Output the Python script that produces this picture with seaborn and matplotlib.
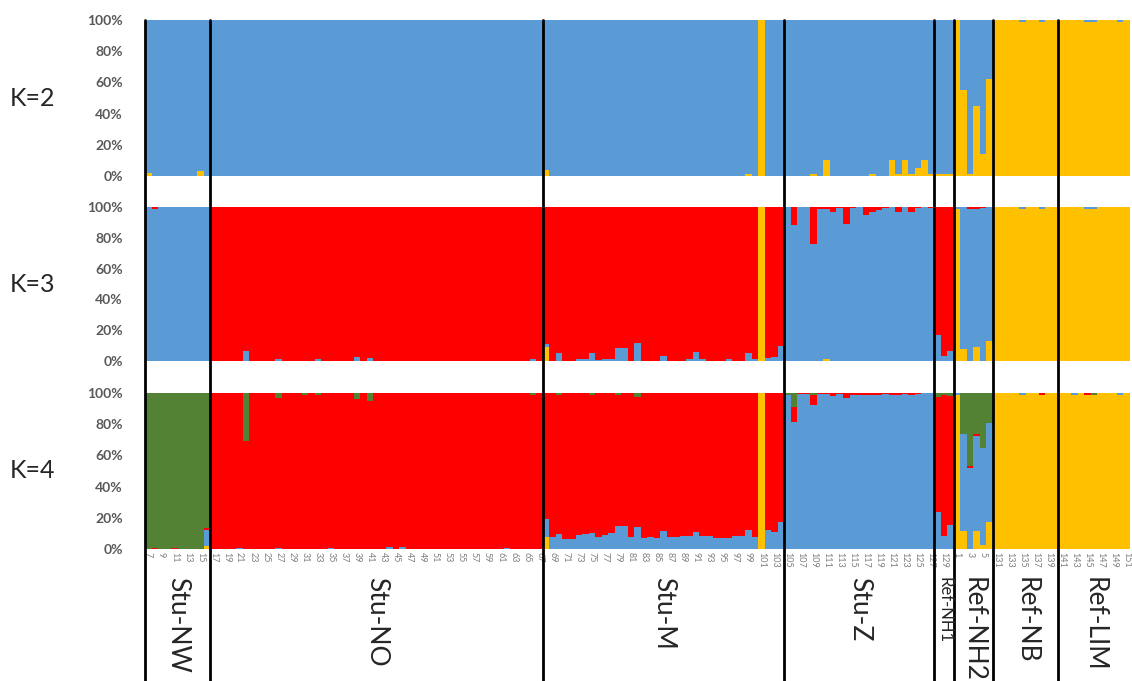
import numpy as np
import pandas as pd
import matplotlib.pyplot as plt
import matplotlib.transforms as mtransforms
import seaborn as sns

# populations, left to right, and how many individuals each one has
groups = ['Stu-NW', 'Stu-NO', 'Stu-M', 'Stu-Z', 'Ref-NH1', 'Ref-NH2', 'Ref-NB', 'Ref-LIM']
group_sizes = [10, 51, 37, 23, 3, 6, 10, 11]
sample_labels = list(range(7, 131)) + list(range(1, 7)) + list(range(131, 152))

# membership coefficients in percent, one value per individual
# K=2: yellow given, blue is the rest
k2_yellow = [
    # Stu-NW
    2, 0, 0, 0, 0, 0, 0, 0, 3, 0,
    # Stu-NO
    0, 0, 0, 0, 0, 0, 0, 0, 0, 0, 0, 0, 0, 0, 0, 0, 0,
    0, 0, 0, 0, 0, 0, 0, 0, 0, 0, 0, 0, 0, 0, 0, 0, 0,
    0, 0, 0, 0, 0, 0, 0, 0, 0, 0, 0, 0, 0, 0, 0, 0, 0,
    # Stu-M
    4, 0, 0, 0, 0, 0, 0, 0, 0, 0, 0, 0, 0, 0, 0, 0, 0, 0, 0,
    0, 0, 0, 0, 0, 0, 0, 0, 0, 0, 0, 0, 1, 0, 100, 0, 0, 0,
    # Stu-Z
    0, 0, 0, 0, 1, 0, 10, 0, 0, 0, 0, 0, 0, 1, 0, 0, 10, 1, 10, 1, 5, 10, 1,
    # Ref-NH1
    1, 1, 1,
    # Ref-NH2
    100, 55, 1, 45, 14, 62,
    # Ref-NB
    100, 100, 100, 100, 99, 100, 100, 99, 100, 100,
    # Ref-LIM
    100, 100, 100, 100, 99, 99, 100, 100, 100, 99, 100,
]

# K=3: yellow and blue given, red is the rest
k3_yellow = [
    0, 0, 0, 0, 0, 0, 0, 0, 0, 0,
    0, 0, 0, 0, 0, 0, 0, 0, 0, 0, 0, 0, 0, 0, 0, 0, 0,
    0, 0, 0, 0, 0, 0, 0, 0, 0, 0, 0, 0, 0, 0, 0, 0, 0,
    0, 0, 0, 0, 0, 0, 0, 0, 0, 0, 0, 0, 0, 0, 0, 0, 0,
    9, 0, 0, 0, 0, 0, 0, 0, 0, 0, 0, 0, 0, 0, 0, 0, 0, 0, 0,
    0, 0, 0, 0, 0, 0, 0, 0, 0, 0, 0, 0, 0, 0, 100, 0, 0, 0,
    0, 0, 0, 0, 0, 0, 1, 0, 0, 0, 0, 0, 0, 0, 0, 0, 0, 0, 0, 0, 0, 0, 0,
    0, 0, 0,
    99, 8, 0, 9, 0, 13,
    100, 100, 100, 100, 99, 100, 100, 99, 100, 100,
    100, 100, 100, 100, 99, 99, 100, 100, 100, 100, 100,
]
k3_blue = [
    100, 99, 100, 100, 100, 100, 100, 100, 100, 100,
    0, 0, 0, 0, 0, 6.5, 0, 0, 0, 0, 1, 0, 0, 0, 0, 0, 1,
    0, 0, 0, 0, 0, 2.5, 0, 2, 0, 0, 0, 0, 0, 0, 0, 0, 0,
    0, 0, 0, 0, 0, 0, 0, 0, 0, 0, 0, 0, 0, 0, 0, 1, 0,
    2, 0, 5, 0, 0, 1, 1, 5, 0.5, 1.5, 1.5, 8.6, 8.6, 0, 11.4, 0, 0, 0, 3,
    0, 0, 0, 1.5, 6, 1, 0, 0, 0, 1, 0, 0, 5, 1, 0, 2, 2.5, 10,
    100, 88, 100, 100, 76, 99, 98, 97, 99.5, 89, 99.5, 100,
    95, 97, 98, 99.5, 100, 97, 100, 97, 99.5, 100, 99.5,
    17, 3, 6.5,
    1, 92, 98.5, 89.5, 99.5, 87,
    0, 0, 0, 0, 1, 0, 0, 1, 0, 0,
    0, 0, 0, 0, 1, 1, 0, 0, 0, 0, 0,
]

# K=4: yellow, blue and green given, red is the rest
k4_yellow = [
    0, 0, 0, 0, 0, 0, 0, 0, 0, 1.7,
    0, 0, 0, 0, 0, 0, 0, 0, 0, 0, 0, 0, 0, 0, 0, 0, 0,
    0, 0, 0, 0, 0, 0, 0, 0, 0, 0, 0, 0, 0, 0, 0, 0, 0,
    0, 0, 0, 0, 0, 0, 0, 0, 0, 0, 0, 0, 0, 0, 0, 0, 0,
    7.5, 0, 0, 0, 0, 0, 0, 0, 0, 0, 0, 0, 0, 0, 0, 0, 0, 0, 0,
    0, 0, 0, 0, 0, 0, 0, 0, 0, 0, 0, 0, 0, 0, 100, 0, 0, 0,
    0, 0, 0, 0, 0, 0, 0, 0, 0, 0, 0, 0, 0, 0, 0, 0, 0, 0, 0, 0, 0, 0, 0,
    0, 0, 0,
    99, 11.4, 0, 11.4, 2.6, 17,
    100, 100, 100, 100, 99, 100, 100, 99, 100, 100,
    100, 100, 99, 100, 99, 99, 100, 100, 100, 99, 100,
]
k4_blue = [
    0, 0, 0, 0, 0, 0, 0, 0, 0, 10.7,
    0, 0, 0, 0, 0.5, 0, 0, 0, 0, 0, 0.5, 0, 0, 0, 0, 0, 0,
    0, 0.5, 0, 0, 0, 0, 0, 0, 0, 0, 1, 0, 1, 0, 0, 0, 0,
    0, 0, 0, 0, 0, 0, 0, 0, 0, 0, 0, 0.5, 0, 0, 0, 0, 0,
    12, 7.5, 9.7, 6.5, 6.5, 9, 9.7, 10, 7.5, 9, 10.3, 15, 15, 8, 14, 7.3, 7.7, 7.3, 11.4,
    8, 8, 8.6, 8.6, 10.7, 8.6, 8.4, 7.3, 7.3, 7.3, 8.6, 8.6, 12.5, 7.7, 0, 12.5, 11, 17.4,
    98.5, 81.5, 99.5, 99.5, 92, 99.5, 99.5, 98, 99.5, 97, 99, 99,
    99, 99, 99, 99.5, 99, 99, 99.5, 99, 99.5, 100, 100,
    24, 8.6, 15.7,
    1, 62, 52, 61, 62, 64,
    0, 0, 0, 0, 1, 0, 0, 0, 0, 0,
    0, 0, 1, 0, 0, 0, 0, 0, 0, 1, 0,
]
k4_green = [
    100, 99.5, 100, 100, 99.5, 100, 100, 100, 100, 86.6,
    0, 0, 0, 0, 0, 31, 0, 0, 0, 0, 3, 0, 0, 0, 1, 0, 1.3,
    0, 0, 0, 0, 0, 4, 0, 5, 0, 0, 0, 0, 0, 0, 0, 0, 0,
    0, 0, 0, 0, 0, 0, 0, 0, 0, 0, 0, 0, 0, 0, 0, 1.3, 0,
    0, 0, 1, 0, 0, 0, 0, 1, 0, 0, 0, 1, 0, 0, 2.5, 0, 0, 0, 0,
    0, 0, 0, 0, 0, 0, 0, 0, 0, 0, 0, 0, 0, 0, 0, 0, 0, 0,
    1, 9, 0, 0, 1.5, 0, 0, 0, 0, 0, 0, 0,
    0, 0, 0, 0, 0, 0, 0, 0, 0, 0, 0,
    2.5, 1.5, 2,
    0, 26.6, 46.5, 26.6, 35.4, 19,
    0, 0, 0, 0, 0, 0, 0, 0, 0, 0,
    0, 0, 0, 0, 0, 1, 0, 0, 0, 0, 0,
]

cluster_colors = {'yellow': '#FFC000', 'blue': '#5B9BD5', 'red': '#FF0000', 'green': '#548235'}
# first hue level ends up on top of the stack
stack_order = ['green', 'red', 'blue', 'yellow']


def rest(*parts):
    total = np.sum([np.asarray(p, float) for p in parts], axis=0)
    return np.clip(100 - total, 0, None)


panels = {
    'K=2': {'yellow': k2_yellow, 'blue': rest(k2_yellow)},
    'K=3': {'yellow': k3_yellow, 'blue': k3_blue, 'red': rest(k3_yellow, k3_blue)},
    'K=4': {'yellow': k4_yellow, 'blue': k4_blue, 'green': k4_green,
            'red': rest(k4_yellow, k4_blue, k4_green)},
}

sns.set_style('white')
plt.rcParams['font.family'] = ['Lato', 'DejaVu Sans']

W, H = 1132, 681
fig = plt.figure(figsize=(W / 100, H / 100), dpi=100)
left, right = 145 / W, 1130 / W
panel_px = [(20, 176), (207, 361), (393, 549)]
n = len(sample_labels)

for (name, parts), (top, bot) in zip(panels.items(), panel_px):
    ax = fig.add_axes([left, 1 - bot / H, right - left, (bot - top) / H])
    df = pd.concat([pd.DataFrame({'pos': np.arange(n), 'cluster': c,
                                  'share': np.asarray(v, float) / 100})
                    for c, v in parts.items()], ignore_index=True)
    order = [c for c in stack_order if c in parts]
    sns.histplot(data=df, x='pos', weights='share', hue='cluster', hue_order=order,
                 palette=cluster_colors, multiple='stack', discrete=True, shrink=1,
                 alpha=1, linewidth=0, legend=False, ax=ax)
    ax.set_xlim(-0.5, n - 0.5)
    ax.set_ylim(0, 1)
    ax.set_xlabel('')
    ax.set_ylabel('')
    yt = np.linspace(0, 1, 6)
    ax.set_yticks(yt)
    ax.set_yticklabels([f'{int(round(t * 100))}%' for t in yt], fontweight='bold')
    ax.tick_params(axis='y', length=0, pad=16, labelsize=10, labelcolor='#595959')
    for s in ax.spines.values():
        s.set_visible(False)
    if name == 'K=4':
        ax.set_xticks(np.arange(0, n, 2))
        ax.set_xticklabels([str(l) for l in sample_labels[::2]], rotation=270)
        ax.tick_params(axis='x', length=0, pad=2, labelsize=6.5, labelcolor='#7F7F7F')
    else:
        ax.set_xticks([])
    fig.text(10 / W, 1 - (top + bot) / 2 / H, name, fontsize=18, ha='left', va='center')

# overlay for the population separators and names
ov = fig.add_axes([left, 0, right - left, 1 - 20 / H])
ov.set_xlim(-0.5, n - 0.5)
ov.set_ylim(0, 1)
ov.axis('off')
ov.patch.set_alpha(0)
starts = np.cumsum([0] + group_sizes[:-1])
for s in starts:
    ov.axvline(s - 0.5, color='black', lw=2, clip_on=False)
trans = mtransforms.blended_transform_factory(ov.transData, fig.transFigure)
for g, s, size in zip(groups, starts, group_sizes):
    ov.text(s + size / 2 - 0.5, 1 - 577 / H, g, rotation=270, ha='center', va='top',
            fontsize=12 if g == 'Ref-NH1' else 19, transform=trans)

fig.savefig('out.png', dpi=100)
